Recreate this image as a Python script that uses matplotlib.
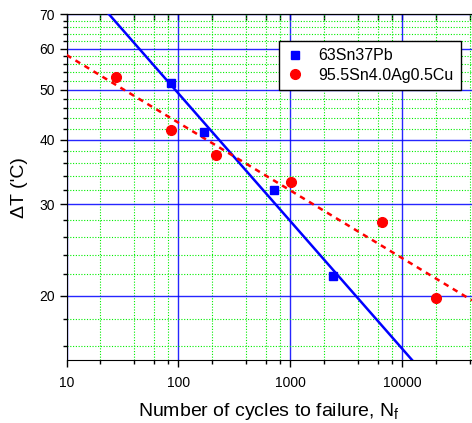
import numpy as np
import matplotlib
matplotlib.use('Agg')
import matplotlib.pyplot as plt
from matplotlib.ticker import FixedLocator, NullFormatter, FixedFormatter

plt.rcParams['font.family'] = ['Liberation Sans', 'DejaVu Sans']

# Data
snpb_cycles = [86.6, 169, 711, 2420]
snpb_dt = [51.6, 41.4, 32.0, 21.8]

sac_cycles = [27.4, 86.6, 216, 1016, 6530, 20050]
sac_dt = [53.0, 41.8, 37.4, 33.1, 27.7, 19.8]

x_major = [10, 100, 1000, 10000]
x_major_labels = ['10', '100', '1000', '10000']
x_minor = [m * 10 ** e for e in range(1, 5) for m in (2, 4, 6, 8)]
y_major = [20, 30, 40, 50, 60, 70]
y_minor = [v for v in range(16, 70, 2) if v % 10 != 0]

xlim = (10, 41800)
ylim = (15, 70)

fig = plt.figure(figsize=(4.72, 4.23), dpi=100)
ax = fig.add_axes([66.5 / 472, 1 - 360.3 / 423, 1 - 66.5 / 472, 346.3 / 423])
ax.set_xscale('log')
ax.set_yscale('log')
ax.set_xlim(*xlim)
ax.set_ylim(*ylim)

# ticks and grid
ax.xaxis.set_major_locator(FixedLocator(x_major))
ax.xaxis.set_major_formatter(FixedFormatter(x_major_labels))
ax.xaxis.set_minor_locator(FixedLocator(x_minor))
ax.xaxis.set_minor_formatter(NullFormatter())
ax.yaxis.set_major_locator(FixedLocator(y_major))
ax.yaxis.set_major_formatter(FixedFormatter([str(v) for v in y_major]))
ax.yaxis.set_minor_locator(FixedLocator(y_minor))
ax.yaxis.set_minor_formatter(NullFormatter())
ax.grid(True, which='minor', color='#00ee00', linestyle=(0, (1, 1.5)), linewidth=0.8)
ax.grid(True, which='major', color='blue', linestyle='-', linewidth=1.0, alpha=0.85)
ax.set_axisbelow(True)

# power-law fits in log-log
xs = np.logspace(np.log10(xlim[0]), np.log10(xlim[1]), 200)
p1 = np.polyfit(np.log10(snpb_cycles), np.log10(snpb_dt), 1)
p2 = np.polyfit(np.log10(sac_cycles), np.log10(sac_dt), 1)
ax.plot(xs, 10 ** np.polyval(p1, np.log10(xs)), color='blue', lw=1.8, zorder=3)
ax.plot(xs, 10 ** np.polyval(p2, np.log10(xs)), color='red', lw=1.8,
        linestyle=(0, (2.2, 2.0)), zorder=3)

ax.plot(snpb_cycles, snpb_dt, 's', color='blue', ms=6, label='63Sn37Pb', zorder=4)
ax.plot(sac_cycles, sac_dt, 'o', color='red', ms=7, label='95.5Sn4.0Ag0.5Cu', zorder=4)

ax.spines['right'].set_visible(False)
ax.tick_params(axis='both', which='major', direction='out', length=5, width=1,
               labelsize=10, top=False, right=False)
ax.tick_params(axis='both', which='minor', direction='out', length=3, width=1,
               top=False, right=False)
ax.tick_params(axis='x', which='major', pad=6)

# inward ticks on the top edge
top = ax.secondary_xaxis('top')
top.xaxis.set_major_locator(FixedLocator(x_major))
top.xaxis.set_minor_locator(FixedLocator(x_minor))
top.xaxis.set_major_formatter(NullFormatter())
top.xaxis.set_minor_formatter(NullFormatter())
top.tick_params(which='both', direction='in', length=4, width=1)

ax.set_xlabel('Number of cycles to failure, N$_\\mathregular{f}$', fontsize=14, labelpad=8)
ax.set_ylabel("\u0394T ('C)", fontsize=14, labelpad=8)

leg = ax.legend(loc='upper right', bbox_to_anchor=(0.973, 0.922), borderaxespad=0,
                fontsize=11.5, fancybox=False, framealpha=1, edgecolor='black',
                handlelength=1.0, handletextpad=1.0, borderpad=0.45,
                labelspacing=0.3, numpoints=1)
leg.get_frame().set_linewidth(1.0)

fig.savefig('out.png', dpi=100)
